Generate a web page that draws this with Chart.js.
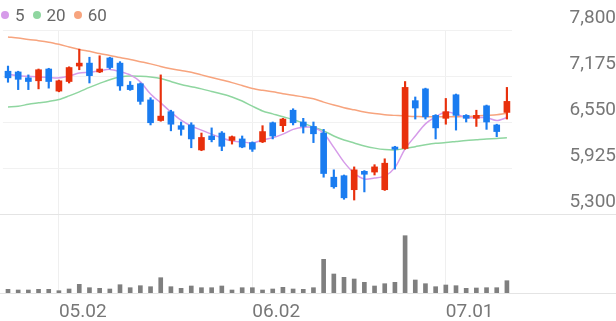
<!DOCTYPE html>
<html>
<head>
<meta charset="utf-8">
<script src="https://cdn.jsdelivr.net/npm/chart.js@4.4.0/dist/chart.umd.min.js"></script>
<style>
  html, body { margin: 0; padding: 0; background: #fff; }
  #wrap { position: relative; width: 616px; height: 321px; }
  #legend { position: absolute; left: 1px; top: 5px; font: 17px Roboto, sans-serif; color: #666; display: flex; align-items: center; line-height: 20px; }
  #legend .dot { display: inline-block; width: 8px; height: 8px; border-radius: 50%; margin-right: 6px; }
  #legend .item { display: flex; align-items: center; margin-right: 8px; }
</style>
</head>
<body>
<div id="wrap">
  <canvas id="chart" width="616" height="321"></canvas>
  <div id="legend"></div>
</div>
<script>
const dates = [
    '04.25', '04.26', '04.27', '04.28', '04.29', '05.02', '05.03', '05.04', '05.06', '05.09',
    '05.10', '05.11', '05.12', '05.13', '05.16', '05.17', '05.18', '05.19', '05.20', '05.23',
    '05.24', '05.25', '05.26', '05.27', '06.02', '06.03', '06.07', '06.08', '06.09', '06.10',
    '06.13', '06.14', '06.15', '06.16', '06.17', '06.20', '06.21', '06.22', '06.23', '06.24',
    '06.27', '06.28', '06.29', '07.01', '07.04', '07.05', '07.06', '07.07', '07.08', '07.11'
];
const shownDates = ['05.02', '06.02', '07.01'];

const opens = [7240, 7230, 7150, 7110, 7270, 6970, 7100, 7310, 7350, 7230,
    7420, 7350, 7050, 7070, 6850, 6570, 6690, 6500, 6510, 6170,
    6360, 6400, 6300, 6320, 6270, 6280, 6540, 6500, 6710, 6550,
    6490, 6400, 5800, 5820, 5630, 5880, 5870, 5630, 6210, 6190,
    6840, 7000, 6640, 6600, 6920, 6640, 6600, 6770, 6510, 6680];
const highs = [7310, 7240, 7190, 7270, 7280, 7120, 7300, 7540, 7430, 7450,
    7430, 7370, 7100, 7080, 6880, 7190, 6710, 6550, 6540, 6400,
    6470, 6420, 6360, 6360, 6280, 6500, 6550, 6600, 6730, 6600,
    6550, 6450, 5900, 5830, 5940, 5890, 5970, 6050, 6220, 7100,
    6890, 7010, 6650, 6870, 6930, 6650, 6710, 6780, 6520, 7020];
const lows = [7090, 6990, 6990, 7000, 7010, 6960, 7080, 7260, 7080, 7220,
    7270, 6980, 6980, 6790, 6510, 6560, 6430, 6370, 6200, 6160,
    6280, 6160, 6250, 6200, 6150, 6270, 6320, 6420, 6510, 6400,
    6270, 5800, 5650, 5500, 5490, 5600, 5830, 5620, 5910, 6180,
    6590, 6590, 6320, 6520, 6440, 6550, 6490, 6450, 6350, 6590];
const closes = [7150, 7130, 7100, 7260, 7100, 7110, 7290, 7350, 7180, 7270,
    7290, 7040, 6990, 6830, 6540, 6630, 6520, 6450, 6320, 6340,
    6310, 6220, 6350, 6210, 6180, 6420, 6360, 6590, 6540, 6490,
    6390, 5850, 5670, 5520, 5900, 5840, 5940, 5990, 6180, 7020,
    6740, 6620, 6470, 6690, 6640, 6600, 6640, 6550, 6420, 6830];

const ma5 = [7200, 7180, 7170, 7160, 7155, 7150, 7175, 7215, 7225, 7245,
    7265, 7235, 7190, 7095, 6930, 6810, 6685, 6575, 6495, 6440,
    6385, 6335, 6290, 6280, 6265, 6305, 6335, 6385, 6450, 6480,
    6475, 6395, 6205, 6005, 5855, 5775, 5790, 5815, 5930, 6185,
    6360, 6525, 6620, 6685, 6660, 6610, 6610, 6610, 6570, 6610];
const ma20 = [6755, 6765, 6790, 6810, 6830, 6855, 6905, 6960, 7020, 7075,
    7125, 7160, 7175, 7170, 7160, 7140, 7100, 7060, 7030, 7000,
    6965, 6930, 6890, 6835, 6765, 6700, 6660, 6620, 6585, 6535,
    6480, 6430, 6360, 6305, 6265, 6225, 6195, 6175, 6170, 6190,
    6215, 6240, 6260, 6270, 6285, 6300, 6310, 6320, 6325, 6335];
const ma60 = [7705, 7690, 7670, 7655, 7635, 7605, 7570, 7535, 7510, 7480,
    7455, 7425, 7400, 7370, 7340, 7305, 7275, 7250, 7225, 7190,
    7155, 7120, 7085, 7045, 7005, 6980, 6960, 6935, 6915, 6890,
    6865, 6820, 6780, 6745, 6715, 6685, 6665, 6650, 6640, 6630,
    6625, 6620, 6620, 6620, 6620, 6625, 6630, 6640, 6650, 6670];

const volumes = [37, 30, 30, 37, 37, 23, 40, 87, 53, 47,
    40, 83, 53, 73, 63, 153, 63, 47, 70, 53,
    53, 70, 30, 53, 53, 30, 40, 57, 40, 37,
    53, 337, 190, 157, 140, 107, 70, 93, 107, 573,
    130, 93, 63, 80, 73, 47, 50, 53, 53, 123];

const priceTicks = [5300, 5925, 6550, 7175, 7800];
const volumeMax = 790;

const UP = '#e8300c';
const DOWN = '#1a7cf0';
const maLines = [
    { label: '5', data: ma5, color: '#d69be9' },
    { label: '20', data: ma20, color: '#8fd6a0' },
    { label: '60', data: ma60, color: '#f7a47e' }
];

const candleColors = opens.map((o, i) => closes[i] >= o ? UP : DOWN);

// legend
const legend = document.getElementById('legend');
maLines.forEach(m => {
    const item = document.createElement('span');
    item.className = 'item';
    item.innerHTML = `<span class="dot" style="background:${m.color}"></span>${m.label}`;
    legend.appendChild(item);
});

// full-width panel separators
const separators = {
    id: 'separators',
    beforeDatasetsDraw(chart) {
        const { ctx, width } = chart;
        const yv = chart.scales.yv;
        ctx.save();
        ctx.strokeStyle = '#e4e4e4';
        ctx.lineWidth = 1;
        [yv.top, yv.bottom].forEach(y => {
            const py = Math.round(y) + 0.5;
            ctx.beginPath();
            ctx.moveTo(0, py);
            ctx.lineTo(width, py);
            ctx.stroke();
        });
        ctx.restore();
    }
};

const axisFont = { family: 'Roboto, sans-serif', size: 19 };

new Chart(document.getElementById('chart'), {
    data: {
        labels: dates,
        datasets: [
            {
                type: 'bar',
                data: opens.map((o, i) => [o, closes[i]]),
                backgroundColor: candleColors,
                barThickness: 6,
                grouped: false,
                yAxisID: 'y',
                order: 0
            },
            {
                type: 'bar',
                data: lows.map((l, i) => [l, highs[i]]),
                backgroundColor: candleColors,
                barThickness: 1.5,
                grouped: false,
                yAxisID: 'y',
                order: 1
            },
            ...maLines.map(m => ({
                type: 'line',
                label: m.label,
                data: m.data,
                borderColor: m.color,
                borderWidth: 1.5,
                pointRadius: 0,
                tension: 0.3,
                yAxisID: 'y',
                order: 2
            })),
            {
                type: 'bar',
                data: volumes,
                backgroundColor: '#7f7f7f',
                barThickness: 4,
                grouped: false,
                yAxisID: 'yv',
                order: 3
            }
        ]
    },
    options: {
        responsive: false,
        animation: false,
        devicePixelRatio: 1,
        layout: { padding: { top: 30, left: 0, right: 0, bottom: 0 } },
        plugins: { legend: { display: false }, tooltip: { enabled: false } },
        scales: {
            x: {
                type: 'category',
                offset: true,
                grid: {
                    offset: false,
                    drawTicks: false,
                    color: c => (c.tick && c.tick.label) ? '#efefef' : 'rgba(0,0,0,0)'
                },
                border: { display: false },
                ticks: {
                    autoSkip: false,
                    maxRotation: 0,
                    minRotation: 0,
                    align: 'start',
                    padding: 8,
                    color: '#777',
                    font: axisFont,
                    callback: function (v) {
                        const lab = this.getLabelForValue(v);
                        return shownDates.includes(lab) ? lab : '';
                    }
                },
                afterFit: s => { s.height = 28; }
            },
            y: {
                type: 'linear',
                position: 'right',
                stack: 'panels',
                stackWeight: 184,
                min: 5300,
                max: 7800,
                afterBuildTicks: s => { s.ticks = priceTicks.map(v => ({ value: v })); },
                grid: { drawTicks: true, tickLength: 53, tickColor: 'rgba(0,0,0,0)', color: '#f1f1f1' },
                border: { display: false },
                ticks: {
                    autoSkip: false,
                    crossAlign: 'far',
                    padding: 0,
                    labelOffset: -12,
                    color: '#777',
                    font: axisFont,
                    callback: v => v.toLocaleString('en-US')
                },
                afterFit: s => { s.width = 104; }
            },
            yv: {
                type: 'linear',
                position: 'right',
                stack: 'panels',
                stackWeight: 79,
                min: 0,
                max: volumeMax,
                grid: { display: false },
                border: { display: false },
                ticks: { display: false },
                afterFit: s => { s.width = 104; }
            }
        }
    },
    plugins: [separators]
});
</script>
</body>
</html>
